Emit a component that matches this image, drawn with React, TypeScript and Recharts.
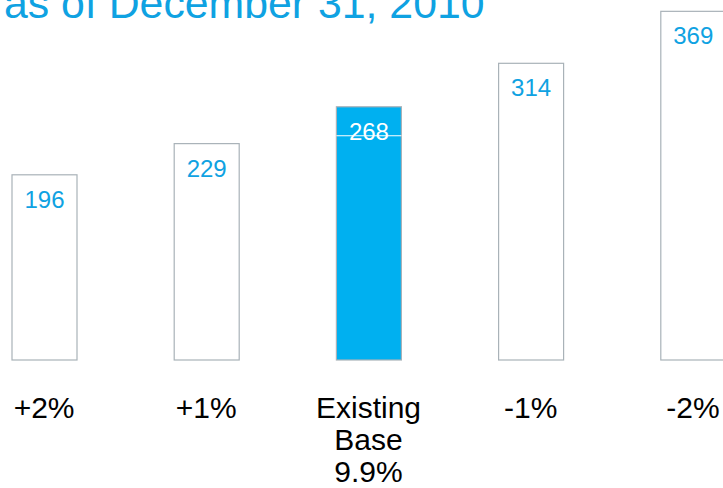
import React from "react";
import { BarChart, Bar, XAxis, YAxis, LabelList, Cell } from "recharts";

const categories = ["+2%", "+1%", "Existing\nBase\n9.9%", "-1%", "-2%"];
const values = [196, 229, 268, 314, 369];
const highlightIndex = 2;
const title = "as of December 31, 2010";

const BLUE = "#00B0F0";
const TEXT_BLUE = "#0FA2E2";
const BORDER = "#A9B2B8";
const FONT = "'Liberation Sans', Arial, sans-serif";

const data = categories.map((c, i) => ({ name: c, value: values[i] }));

function CategoryTick(props: any) {
  const { x, y, payload } = props;
  const lines = String(payload.value).split("\n");
  return (
    <text x={x} y={y} textAnchor="middle" fontFamily={FONT} fontSize={30} fill="#000">
      {lines.map((l, i) => (
        <tspan key={i} x={x} dy={i === 0 ? 58 : 32}>
          {l}
        </tspan>
      ))}
    </text>
  );
}

function ValueLabel(props: any) {
  const { x, y, width, value, index } = props;
  return (
    <text
      x={Number(x) + Number(width) / 2}
      y={Number(y) + 33}
      textAnchor="middle"
      fontFamily={FONT}
      fontSize={24}
      fill={index === highlightIndex ? "#fff" : TEXT_BLUE}
    >
      {value}
    </text>
  );
}

function BarShape(props: any) {
  const { x, y, width, height, fill, index } = props;
  return (
    <g>
      <rect x={x} y={y} width={width} height={height} fill={fill} stroke={BORDER} strokeWidth={1.2} />
      {index === highlightIndex && (
        <line x1={x} x2={x + width} y1={y + 29} y2={y + 29} stroke="#fff" strokeWidth={1.2} />
      )}
    </g>
  );
}

export default function App() {
  return (
    <div
      style={{
        position: "fixed",
        top: 0,
        left: 0,
        width: 723,
        height: 488,
        overflow: "hidden",
        background: "#fff",
      }}
    >
      <div
        style={{
          position: "absolute",
          left: 4,
          top: -18.5,
          fontFamily: FONT,
          fontSize: 42.8,
          lineHeight: "42.8px",
          color: TEXT_BLUE,
          whiteSpace: "nowrap",
        }}
      >
        {title}
      </div>
      <div style={{ position: "absolute", left: -37, top: 0 }}>
        <BarChart width={811} height={488} data={data} margin={{ top: 0, right: 0, bottom: 0, left: 0 }}>
          <XAxis
            dataKey="name"
            axisLine={false}
            tickLine={false}
            tickSize={0}
            tickMargin={0}
            height={128}
            interval={0}
            tick={<CategoryTick />}
          />
          <YAxis hide domain={[0, 381]} />
          <Bar dataKey="value" barSize={65} isAnimationActive={false} shape={<BarShape />}>
            {data.map((_, i) => (
              <Cell key={i} fill={i === highlightIndex ? BLUE : "#fff"} />
            ))}
            <LabelList dataKey="value" content={<ValueLabel />} />
          </Bar>
        </BarChart>
      </div>
    </div>
  );
}
